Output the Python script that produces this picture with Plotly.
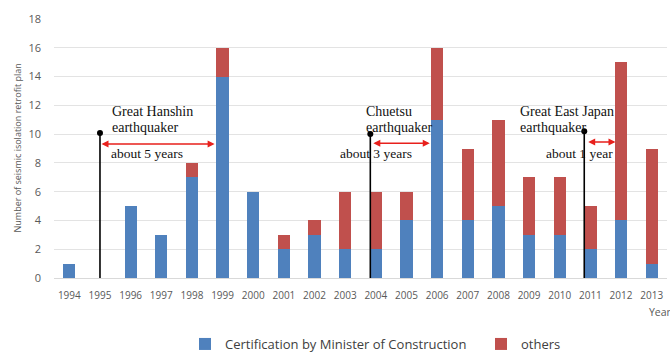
import plotly.graph_objects as go

# Seismic isolation retrofit plans per year
years = list(range(1994, 2014))
certified = [1, 0, 5, 3, 7, 14, 6, 2, 3, 2, 2, 4, 11, 4, 5, 3, 3, 2, 4, 1]
others = [0, 0, 0, 0, 1, 2, 0, 1, 1, 4, 4, 2, 5, 5, 6, 4, 4, 3, 11, 8]
y_ticks = list(range(0, 20, 2))

# Earthquake markers: x position, height of the marker line
quake_x = [1995.0, 2003.82, 2010.8]
quake_top = [10.07, 10.0, 10.2]
quake_title = [["Great Hanshin", "earthquaker"],
               ["Chuetsu", "earthquaker"],
               ["Great East Japan", "earthquaker"]]
quake_title_x = [1995.32, 2003.6, 2008.63]
# Lag arrows: start, end, height, label, label x
lag_start = [1995.0, 2003.87, 2010.88]
lag_end = [1998.74, 2005.76, 2011.82]
lag_y = [9.31, 9.36, 9.45]
lag_text = ["about 5 years", "about 3 years", "about 1 year"]
lag_text_x = [1995.3, 2002.76, 2009.48]

BLUE = "#4f81bd"
RED = "#c0504d"
GREY = "#595959"
SERIF = "Liberation Serif, Times New Roman, serif"

fig = go.Figure()
fig.add_bar(x=years, y=certified, name="Certification by Minister of Construction",
            marker=dict(color=BLUE, line=dict(width=0)))
fig.add_bar(x=years, y=others, name="others",
            marker=dict(color=RED, line=dict(width=0)))

# Vertical event lines with a dot on top
for x, top in zip(quake_x, quake_top):
    fig.add_shape(type="line", x0=x, x1=x, y0=0, y1=top, xref="x", yref="y",
                  line=dict(color="black", width=1.6), layer="above")
fig.add_scatter(x=quake_x, y=quake_top, mode="markers", showlegend=False,
                marker=dict(color="black", size=6), hoverinfo="skip")

annotations = []
for lines, tx in zip(quake_title, quake_title_x):
    for i, line in enumerate(lines):
        annotations.append(dict(x=tx, y=11.54 - 1.05 * i, xref="x", yref="y",
                                text=line, showarrow=False, xanchor="left",
                                yanchor="middle",
                                font=dict(family=SERIF, size=14, color="#111111")))
for x0, x1, y, txt, tx in zip(lag_start, lag_end, lag_y, lag_text, lag_text_x):
    annotations.append(dict(x=x1, y=y, ax=x0, ay=y, xref="x", yref="y",
                            axref="x", ayref="y", text="", showarrow=True,
                            arrowside="end+start", arrowhead=2, arrowsize=1,
                            arrowwidth=1.4, arrowcolor="#e8201c"))
    annotations.append(dict(x=tx, y=8.65, xref="x", yref="y", text=txt,
                            showarrow=False, xanchor="left", yanchor="middle",
                            font=dict(family=SERIF, size=13.5, color="#111111")))

# Axis titles
annotations.append(dict(x=-37 / 613, y=0.5, xref="paper", yref="paper",
                        text="Number of seismic isolation retrofit plan",
                        textangle=-90, showarrow=False, xanchor="center",
                        yanchor="middle", font=dict(size=9, color=GREY)))
annotations.append(dict(x=(647 - 54) / 613, y=0, xref="paper", yref="paper",
                        yshift=-34, text="Year", showarrow=False,
                        xanchor="left", yanchor="middle",
                        font=dict(size=10.5, color=GREY)))

fig.update_layout(
    width=670, height=352,
    margin=dict(l=54, r=3, t=19, b=74, autoexpand=False),
    barmode="stack", bargap=0.6,
    plot_bgcolor="white", paper_bgcolor="white",
    font=dict(family="Open Sans, sans-serif", color=GREY),
    showlegend=True,
    legend=dict(orientation="h", x=(185 - 54) / 613, xanchor="left",
                yref="container", y=1 - 344 / 352, yanchor="middle",
                font=dict(size=13, color="#404040"),
                traceorder="normal", itemwidth=30, entrywidth=251),
    annotations=annotations,
)
fig.update_xaxes(range=[1993.5, 2013.5], tickmode="array", tickvals=years,
                 ticktext=[str(y) for y in years], tickfont=dict(size=10, color=GREY),
                 showgrid=False, showline=False, zeroline=False, ticks="",
                 ticklabelstandoff=10)
fig.update_yaxes(range=[0, 18], tickvals=y_ticks, tickfont=dict(size=11, color=GREY),
                 showgrid=True, gridcolor="#e3e3e3", gridwidth=1,
                 zeroline=True, zerolinecolor="#d9d9d9", zerolinewidth=1,
                 showline=False, ticks="", ticklabelstandoff=12)

fig.write_html("out.html")
